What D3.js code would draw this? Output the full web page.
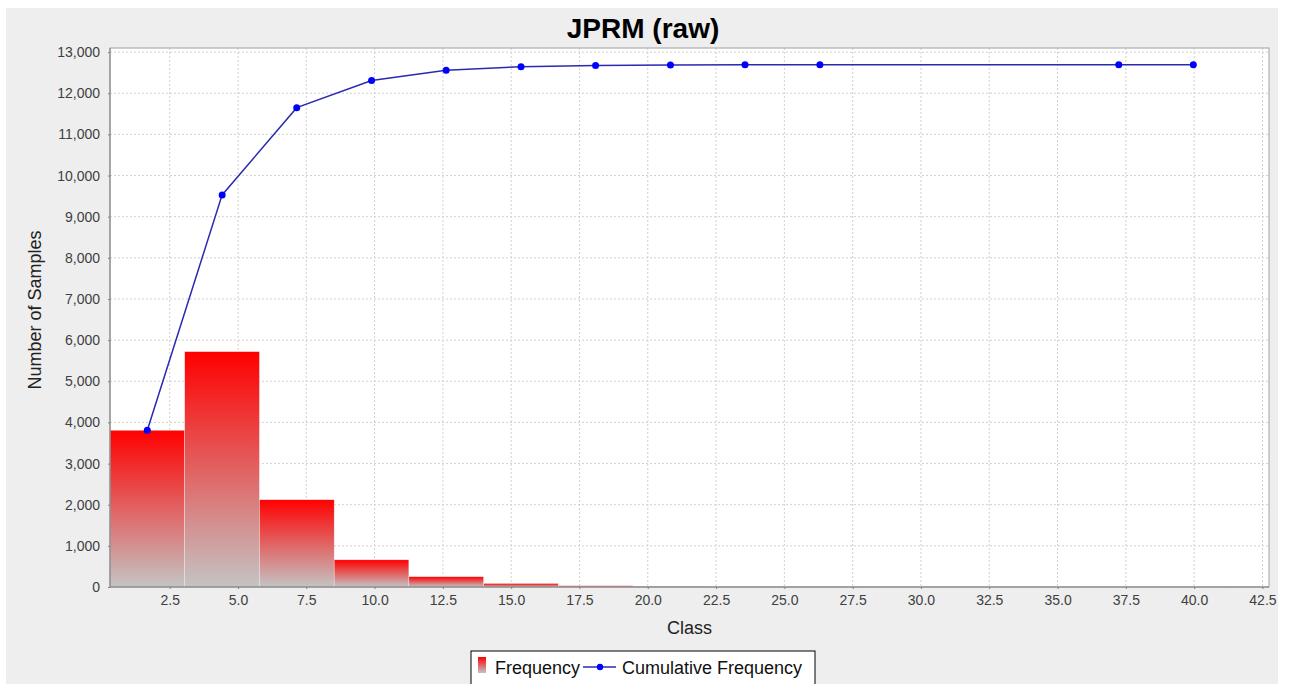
<!DOCTYPE html>
<meta charset="utf-8">
<style>
  body { margin: 0; background: #fff; }
  text { font-family: "Liberation Sans", Arial, sans-serif; }
</style>
<script src="https://d3js.org/d3.v7.min.js"></script>
<body>
<script>
// histogram bins (class lower edges) and counts
var binLower = [0.315, 3.05, 5.785, 8.52, 11.255, 13.99, 16.725, 19.46, 22.195, 24.93, 27.665, 30.4, 33.135, 35.87, 38.605];
var binWidth = 2.735;
var frequency = [3810, 5720, 2120, 660, 250, 85, 30, 12, 3, 2, 0, 0, 0, 1, 1];

// cumulative frequency points (class midpoint, value)
var cumClass = [1.68, 4.42, 7.15, 9.89, 12.62, 15.36, 18.09, 20.83, 23.56, 26.3, 37.24, 39.97];
var cumValue = [3810, 9530, 11650, 12310, 12560, 12645, 12675, 12687, 12690, 12692, 12693, 12694];

var xTicks = [2.5, 5, 7.5, 10, 12.5, 15, 17.5, 20, 22.5, 25, 27.5, 30, 32.5, 35, 37.5, 40, 42.5];
var yTicks = [0, 1000, 2000, 3000, 4000, 5000, 6000, 7000, 8000, 9000, 10000, 11000, 12000, 13000];

var W = 1292, H = 684;
var plot = { left: 110, top: 48, right: 1269, bottom: 587 };

var svg = d3.select("body").append("svg")
  .attr("width", W).attr("height", H);

// chart panel background
svg.append("rect")
  .attr("x", 6).attr("y", 8).attr("width", 1272).attr("height", H - 8)
  .style("fill", "#eeeeee");

var x = d3.scaleLinear().domain([0.315, 42.74]).range([plot.left, plot.right]);
var y = d3.scaleLinear().domain([0, 13100]).range([plot.bottom, plot.top]);

svg.append("rect")
  .attr("x", plot.left).attr("y", plot.top)
  .attr("width", plot.right - plot.left).attr("height", plot.bottom - plot.top)
  .style("fill", "#ffffff");

// gridlines
svg.append("g").selectAll("line").data(xTicks).enter().append("line")
  .attr("x1", d => x(d)).attr("x2", d => x(d))
  .attr("y1", plot.top).attr("y2", plot.bottom)
  .style("stroke", "#d0d0d0").style("stroke-dasharray", "2,2");
svg.append("g").selectAll("line").data(yTicks).enter().append("line")
  .attr("x1", plot.left).attr("x2", plot.right)
  .attr("y1", d => y(d)).attr("y2", d => y(d))
  .style("stroke", "#d0d0d0").style("stroke-dasharray", "2,2");

// bar gradient
var defs = svg.append("defs");
var grad = defs.append("linearGradient").attr("id", "barGrad")
  .attr("x1", 0).attr("y1", 0).attr("x2", 0).attr("y2", 1);
grad.append("stop").attr("offset", "0%").attr("stop-color", "#ff0000");
grad.append("stop").attr("offset", "100%").attr("stop-color", "#c4c4c4");

var bars = svg.append("g");
frequency.forEach(function(f, i) {
  if (f <= 0) return;
  bars.append("rect")
    .attr("x", x(binLower[i]))
    .attr("y", y(f))
    .attr("width", x(binLower[i] + binWidth) - x(binLower[i]))
    .attr("height", y(0) - y(f))
    .style("fill", "url(#barGrad)")
    .style("stroke", "#eeeeee")
    .style("stroke-width", 0.4);
});

// plot outline
svg.append("rect")
  .attr("x", plot.left).attr("y", plot.top)
  .attr("width", plot.right - plot.left).attr("height", plot.bottom - plot.top)
  .style("fill", "none").style("stroke", "#a0a0a0").style("stroke-width", 1);

// axes
var xAxis = d3.axisBottom(x).tickValues(xTicks).tickFormat(d3.format(".1f"))
  .tickSize(2).tickPadding(6);
var gx = svg.append("g").attr("transform", "translate(0," + plot.bottom + ")").call(xAxis);
var yAxis = d3.axisLeft(y).tickValues(yTicks).tickFormat(d3.format(","))
  .tickSize(2).tickPadding(8);
var gy = svg.append("g").attr("transform", "translate(" + plot.left + ",0)").call(yAxis);
[gx, gy].forEach(function(g) {
  g.select(".domain").style("stroke", "#808080");
  g.selectAll(".tick line").style("stroke", "#808080");
  g.selectAll(".tick text").style("font-size", "14px").style("fill", "#404040")
    .style("font-family", "'Liberation Sans', Arial, sans-serif");
});
gx.select(".domain").attr("d", "M" + plot.left + ",0H" + plot.right);
gy.select(".domain").attr("d", "M0," + plot.top + "V" + plot.bottom);

// cumulative line
var line = d3.line().x((d, i) => x(cumClass[i])).y(d => y(d));
svg.append("path").datum(cumValue)
  .attr("d", line)
  .style("fill", "none").style("stroke", "#2a2ab0").style("stroke-width", 1.5);
svg.append("g").selectAll("circle").data(cumValue).enter().append("circle")
  .attr("cx", (d, i) => x(cumClass[i])).attr("cy", d => y(d))
  .attr("r", 3.5).style("fill", "#0000ff");

// titles
svg.append("text").text("JPRM (raw)")
  .attr("x", 643).attr("y", 38).attr("text-anchor", "middle")
  .style("font-size", "28px").style("font-weight", "bold").style("fill", "#000");
svg.append("text").text("Class")
  .attr("x", (plot.left + plot.right) / 2).attr("y", 634).attr("text-anchor", "middle")
  .style("font-size", "18px").style("fill", "#222");
svg.append("text").text("Number of Samples")
  .attr("transform", "translate(41,310) rotate(-90)")
  .attr("text-anchor", "middle")
  .style("font-size", "18px").style("fill", "#222");

// legend
var lg = svg.append("g");
lg.append("rect").attr("x", 471).attr("y", 651).attr("width", 344).attr("height", 40)
  .style("fill", "#ffffff").style("stroke", "#000").style("stroke-width", 1);
lg.append("rect").attr("x", 478).attr("y", 657).attr("width", 8).attr("height", 16)
  .style("fill", "url(#barGrad)");
lg.append("text").text("Frequency").attr("x", 495).attr("y", 674)
  .style("font-size", "18px").style("fill", "#111");
lg.append("line").attr("x1", 583).attr("x2", 616).attr("y1", 667).attr("y2", 667)
  .style("stroke", "#2a2ab0").style("stroke-width", 1.5);
lg.append("circle").attr("cx", 600).attr("cy", 667).attr("r", 3.2).style("fill", "#0000ff");
lg.append("text").text("Cumulative Frequency").attr("x", 622).attr("y", 674)
  .style("font-size", "18px").style("fill", "#111");
</script>
</body>
